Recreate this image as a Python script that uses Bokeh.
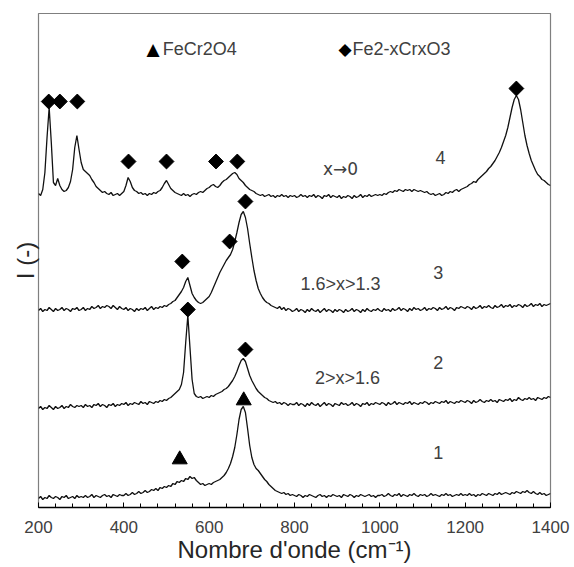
import numpy as np
from bokeh.plotting import figure
from bokeh.models import Range1d, FixedTicker
from bokeh.core.properties import value
from bokeh.embed import file_html
from bokeh.resources import INLINE

# Raman shift axis (cm-1), sampled every 5 cm-1
wavenumber = list(range(200, 1405, 5))

# Spectrum 1 (bottom, FeCr2O4), offset intensity
spec1 = [
    9, 11, 8, 10, 9, 12, 10, 9, 11, 10, 8, 11, 10, 12, 9, 10, 11, 9, 12, 10,
    11, 10, 12, 10, 11, 13, 10, 12, 11, 10, 12, 13, 11, 12, 10, 13, 12, 11, 13, 12,
    12, 14, 12, 13, 15, 13, 14, 16, 14, 15, 17, 15, 16, 18, 17, 19, 17, 20, 19, 21,
    20, 22, 21, 24, 23, 26, 25, 27, 26, 29, 28, 31, 29, 30, 27, 25, 23, 24, 22, 23,
    24, 23, 25, 26, 27, 28, 30, 32, 35, 39, 44, 51, 60, 73, 88, 98, 101, 95, 79, 62,
    50, 43, 39, 37, 34, 31, 28, 26, 23, 21, 19, 17, 16, 15, 14, 15, 13, 14, 12, 13,
    12, 11, 13, 12, 10, 12, 11, 13, 12, 11, 10, 12, 13, 11, 12, 10, 12, 11, 13, 12,
    11, 12, 10, 13, 12, 11, 13, 12, 10, 12, 11, 13, 12, 11, 12, 13, 11, 12, 10, 12,
    12, 13, 11, 12, 14, 12, 11, 13, 12, 14, 11, 13, 12, 11, 13, 12, 14, 12, 11, 13,
    12, 13, 11, 12, 14, 12, 13, 12, 11, 13, 12, 14, 12, 13, 11, 12, 13, 12, 14, 12,
    13, 12, 14, 12, 13, 11, 13, 12, 14, 13, 12, 14, 13, 12, 14, 13, 15, 13, 14, 15,
    14, 13, 15, 14, 16, 15, 14, 16, 15, 17, 15, 14, 16, 14, 13, 15, 13, 14, 12, 13,
    14,
]

# Spectrum 2
spec2 = [
    99, 101, 98, 100, 99, 102, 100, 98, 101, 99, 100, 102, 99, 101, 100, 103, 101, 100, 102, 101,
    102, 100, 103, 101, 102, 100, 103, 102, 104, 101, 103, 102, 100, 103, 102, 104, 101, 103, 102, 104,
    103, 105, 102, 104, 103, 105, 104, 103, 106, 104, 105, 103, 106, 105, 104, 106, 105, 107, 106, 108,
    107, 109, 110, 112, 114, 116, 118, 123, 135, 165, 192, 160, 128, 114, 111, 110, 111, 109, 110, 111,
    110, 112, 111, 113, 114, 115, 116, 118, 119, 121, 124, 127, 131, 136, 142, 147, 149, 146, 139, 132,
    127, 123, 119, 116, 114, 112, 110, 109, 107, 106, 105, 106, 104, 105, 103, 105, 104, 102, 104, 103,
    103, 105, 102, 104, 103, 101, 104, 102, 105, 103, 102, 104, 101, 103, 105, 102, 104, 103, 101, 104,
    103, 102, 105, 103, 104, 102, 103, 105, 102, 104, 103, 101, 104, 103, 105, 102, 104, 103, 105, 104,
    103, 105, 104, 102, 105, 103, 104, 106, 103, 105, 104, 103, 105, 104, 106, 103, 105, 104, 103, 105,
    104, 106, 105, 103, 105, 104, 106, 105, 104, 106, 105, 107, 104, 106, 105, 104, 106, 105, 107, 106,
    105, 107, 106, 104, 107, 105, 106, 108, 106, 105, 107, 106, 108, 106, 107, 105, 108, 107, 106, 108,
    107, 109, 106, 108, 107, 110, 108, 107, 109, 108, 110, 108, 109, 107, 110, 109, 108, 110, 109, 111,
    110,
]

# Spectrum 3
spec3 = [
    197, 199, 196, 198, 197, 200, 198, 196, 199, 197, 198, 200, 197, 199, 198, 196, 199, 198, 200, 197,
    198, 200, 197, 199, 198, 201, 199, 200, 202, 199, 201, 200, 202, 201, 199, 202, 200, 198, 201, 199,
    198, 200, 197, 199, 198, 196, 199, 197, 199, 198, 200, 197, 199, 201, 198, 200, 199, 201, 200, 202,
    201, 203, 204, 206, 207, 210, 213, 216, 220, 226, 230, 222, 214, 210, 207, 205, 204, 205, 207, 209,
    211, 215, 220, 225, 230, 235, 239, 243, 247, 250, 253, 258, 266, 275, 285, 293, 296, 290, 279, 264,
    250, 237, 227, 219, 214, 210, 207, 205, 204, 202, 201, 200, 199, 201, 198, 200, 197, 199, 198, 196,
    197, 199, 196, 198, 197, 195, 198, 196, 199, 197, 196, 198, 195, 197, 199, 196, 198, 197, 195, 198,
    196, 198, 197, 195, 198, 196, 197, 199, 196, 198, 197, 195, 198, 196, 199, 197, 196, 198, 197, 199,
    197, 196, 199, 197, 198, 196, 199, 197, 198, 200, 197, 199, 198, 196, 199, 197, 200, 198, 199, 197,
    198, 200, 197, 199, 198, 200, 199, 197, 200, 198, 199, 201, 198, 200, 199, 197, 200, 199, 201, 200,
    199, 201, 200, 198, 201, 199, 200, 202, 199, 201, 200, 202, 200, 199, 202, 200, 201, 203, 200, 202,
    201, 203, 200, 202, 201, 203, 202, 200, 203, 201, 202, 204, 201, 203, 202, 204, 201, 203, 202, 203,
    204,
]

# Spectrum 4 (top, x -> 0)
spec4 = [
    314, 312, 318, 335, 370, 400, 365, 325, 322, 329, 322, 318, 316, 317, 320, 326, 338, 360, 372, 358,
    345, 338, 336, 334, 332, 328, 325, 321, 319, 317, 315, 316, 314, 313, 315, 312, 313, 314, 312, 314,
    316, 322, 330, 326, 320, 317, 316, 314, 315, 313, 314, 312, 314, 313, 315, 314, 316, 317, 320, 324,
    327, 323, 319, 317, 315, 314, 313, 312, 314, 312, 313, 311, 313, 314, 313, 315, 316, 315, 317, 319,
    320, 322, 323, 321, 320, 322, 325, 327, 328, 330, 332, 334, 335, 333, 329, 327, 325, 322, 320, 318,
    317, 316, 314, 313, 312, 313, 311, 312, 313, 311, 312, 310, 312, 311, 313, 311, 312, 310, 312, 311,
    312, 310, 311, 313, 311, 312, 310, 312, 311, 313, 310, 312, 311, 309, 312, 311, 313, 310, 312, 311,
    310, 312, 309, 311, 310, 312, 311, 309, 312, 310, 311, 313, 310, 312, 311, 313, 311, 312, 313, 312,
    313, 312, 314, 313, 315, 316, 315, 317, 316, 318, 317, 316, 318, 317, 318, 316, 318, 317, 316, 317,
    316, 315, 316, 314, 313, 314, 312, 313, 314, 312, 313, 315, 314, 316, 315, 317, 318, 316, 318, 319,
    320, 321, 323, 324, 326, 325, 328, 330, 332, 334, 336, 339, 341, 344, 347, 351, 355, 360, 366, 372,
    380, 390, 400, 408, 412, 408, 398, 385, 372, 362, 354, 347, 342, 337, 333, 331, 328, 327, 325, 323,
    322,
]

# Peak markers
dia_x = [224, 250, 291, 411, 500, 616, 666, 1320, 537, 648, 685, 550, 685]
dia_y = [406, 406, 406, 346, 346, 346, 346, 419, 246, 266, 306, 198, 158]
tri_x = [531, 681]
tri_y = [48, 107]

# Annotations
lab_x = [1142, 1137, 908, 1137, 924, 1137]
lab_y = [350, 235, 224, 145, 130, 55]
lab_text = ["4", "3", "1.6>x>1.3", "2", "2>x>1.6", "1"]
arrow_lab_x = [908]
arrow_lab_y = [339]
arrow_lab_text = ["x\u21920"]

# Legend (symbol + name)
leg_sym_x = [453, 903]
leg_txt_x = [491, 936]
leg_y = [459, 459]
leg_sym = ["\u25b2", "\u25c6"]
leg_text = ["FeCr2O4", "Fe2-xCrxO3"]

xticks = [200, 400, 600, 800, 1000, 1200, 1400]

FONT = "Liberation Sans"
TXT = "#404040"

p = figure(frame_width=512, frame_height=494,
           x_range=Range1d(200, 1400), y_range=Range1d(0, 494),
           output_backend="svg", toolbar_location=None,
           min_border_left=38, min_border_right=24, min_border_top=13, min_border_bottom=60)
p.xgrid.visible = False
p.ygrid.visible = False
p.outline_line_color = "#7f7f7f"
p.outline_line_width = 1.2
p.background_fill_color = "white"
p.border_fill_color = "white"

for s in (spec1, spec2, spec3, spec4):
    p.line(wavenumber, s, line_color="#111111", line_width=1.3)

p.scatter(dia_x, dia_y, marker="square", size=10.5, angle=np.pi / 4, color="black")
p.scatter(tri_x, tri_y, marker="triangle", size=15, color="black")

p.text(lab_x, lab_y, text=lab_text, text_font=value(FONT), text_font_size="18px",
       text_align="center", text_baseline="middle", text_color=TXT)
p.text(arrow_lab_x, arrow_lab_y, text=arrow_lab_text, text_font=value("DejaVu Sans"),
       text_font_size="17px", text_align="center", text_baseline="middle", text_color=TXT)
p.text(leg_sym_x, leg_y, text=leg_sym, text_font=value("DejaVu Sans"), text_font_size="17px",
       text_align="left", text_baseline="middle", text_color="black")
p.text(leg_txt_x, leg_y, text=leg_text, text_font=value(FONT), text_font_size="18px",
       text_align="left", text_baseline="middle", text_color=TXT)

xa = p.xaxis[0]
xa.ticker = FixedTicker(ticks=xticks, minor_ticks=list(range(200, 1401, 40)))
xa.major_tick_in = 5
xa.major_tick_out = 0
xa.minor_tick_in = 4
xa.minor_tick_out = 0
xa.axis_line_width = 1.5
xa.axis_line_color = "black"
xa.major_tick_line_color = "black"
xa.minor_tick_line_color = "black"
xa.major_label_text_font = FONT
xa.major_label_text_font_size = "17px"
xa.major_label_text_color = TXT
xa.major_label_standoff = 13
xa.axis_label = "Nombre d'onde (cm\u207b\u00b9)"
xa.axis_label_text_font = FONT
xa.axis_label_text_font_size = "24px"
xa.axis_label_text_font_style = "normal"
xa.axis_label_text_color = "#262626"
xa.axis_label_standoff = 0

ya = p.yaxis[0]
ya.ticker = FixedTicker(ticks=[])
ya.axis_line_color = None
ya.major_tick_line_color = None
ya.minor_tick_line_color = None
ya.axis_label = "I (-)"
ya.axis_label_text_font = FONT
ya.axis_label_text_font_size = "24px"
ya.axis_label_text_font_style = "normal"
ya.axis_label_text_color = "#262626"
ya.axis_label_standoff = 0

open("out.html", "w").write(file_html(p, INLINE))
